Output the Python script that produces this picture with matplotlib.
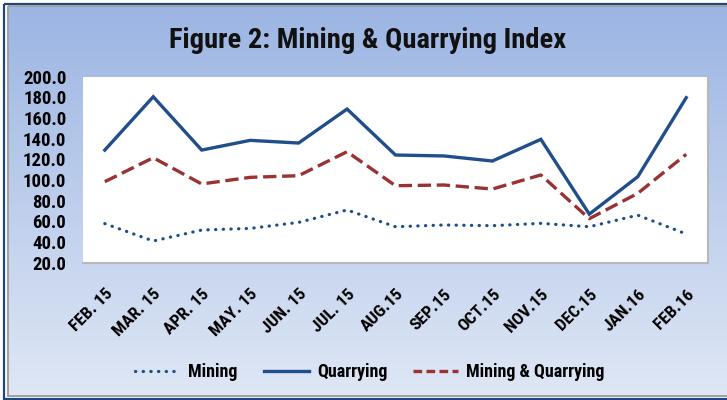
import numpy as np
import matplotlib
matplotlib.use("Agg")
import matplotlib.pyplot as plt
from matplotlib.patches import Rectangle
from matplotlib.colors import LinearSegmentedColormap

months = ["FEB. 15", "MAR. 15", "APR. 15", "MAY. 15", "JUN. 15", "JUL. 15", "AUG.15",
          "SEP.15", "OCT.15", "NOV.15", "DEC.15", "JAN.16", "FEB.16"]
mining = [57.8, 41.0, 51.6, 53.2, 59.0, 71.0, 54.8, 56.5, 55.8, 58.1, 54.8, 66.0, 47.8]
quarrying = [129.0, 180.6, 129.0, 138.4, 135.8, 168.7, 124.2, 123.3, 118.4, 139.4, 67.0, 103.2, 179.7]
mining_quarrying = [98.4, 121.6, 96.2, 102.6, 104.2, 127.4, 94.5, 95.2, 91.3, 104.9, 62.6, 87.1, 124.9]
yticks = [20, 40, 60, 80, 100, 120, 140, 160, 180, 200]

FONT = ["Roboto Condensed", "Liberation Sans Narrow", "Liberation Sans", "DejaVu Sans"]
plt.rcParams['font.family'] = FONT
plt.rcParams['font.stretch'] = 'condensed'

W, H = 727, 400
fig = plt.figure(figsize=(W / 100, H / 100), dpi=100)
fig.patch.set_facecolor("white")

# background with gradient and borders
bg = fig.add_axes([0, 0, 1, 1])
bg.set_xlim(0, W)
bg.set_ylim(H, 0)
bg.axis("off")
cmap = LinearSegmentedColormap.from_list("g", ["#9cb5e3", "#dfe7f5"])
grad = np.linspace(0, 1, 256).reshape(-1, 1)
bg.imshow(grad, cmap=cmap, aspect="auto", extent=[8, W + 5, 396, 6], zorder=0)
bg.add_patch(Rectangle((4, 3.5), W + 10, 395, fill=False, edgecolor="#1f4680", lw=1.6, zorder=2))
bg.add_patch(Rectangle((7.5, 6), W + 10, 390, fill=False, edgecolor="#a0a0a0", lw=1.4, zorder=2))

# main axes
x0, x1 = 83, 708
ytop, ybot = 76.7, 262.7
ax = fig.add_axes([x0 / W, 1 - ybot / H, (x1 - x0) / W, (ybot - ytop) / H])
ax.set_facecolor("white")
x = np.arange(len(months))

ax.plot(x, mining, color="#1f4e8a", lw=2.3, linestyle=(0, (0.1, 2.3)),
        dash_capstyle="round", label="Mining")
ax.plot(x, quarrying, color="#1f4e8a", lw=2.4, solid_joinstyle="miter", label="Quarrying")
ax.plot(x, mining_quarrying, color="#993333", lw=2.4, linestyle=(0, (4, 1.7)),
        label="Mining & Quarrying")

ax.set_xlim(-0.45, len(months) - 0.55)
ax.set_ylim(20, 200)
ax.set_yticks(yticks)
ax.set_yticklabels([f"{v:.1f}" for v in yticks], fontsize=13.5, fontweight="bold")
ax.set_xticks(x)
ax.set_xticklabels(months, rotation=45, ha="right", rotation_mode="anchor",
                   fontsize=12.5, fontweight="bold")
ax.tick_params(axis="both", length=0)
ax.tick_params(axis="y", pad=12)
ax.tick_params(axis="x", pad=17)
for side in ["left", "top"]:
    ax.spines[side].set_visible(False)
ax.spines["right"].set_color("#b8b8b8")
ax.spines["bottom"].set_color("#b8b8b8")
ax.spines["right"].set_linewidth(1.5)
ax.spines["bottom"].set_linewidth(1.5)

fig.text(368 / W, 1 - 40 / H, "Figure 2: Mining & Quarrying Index", ha="center", va="center",
         fontsize=20.5, fontweight="bold", color="#111111")

leg = ax.legend(loc="center", bbox_to_anchor=(370 / W, 1 - 372 / H), bbox_transform=fig.transFigure,
                ncol=3, frameon=False, prop={"size": 13, "weight": "bold"},
                handlelength=2.5, handletextpad=0.43, columnspacing=1.45)
for h in leg.get_lines():
    if h.get_label() == "Mining & Quarrying":
        h.set_linestyle((0, (2.6, 1.3)))

fig.savefig("out.png", dpi=100, facecolor=fig.get_facecolor())
